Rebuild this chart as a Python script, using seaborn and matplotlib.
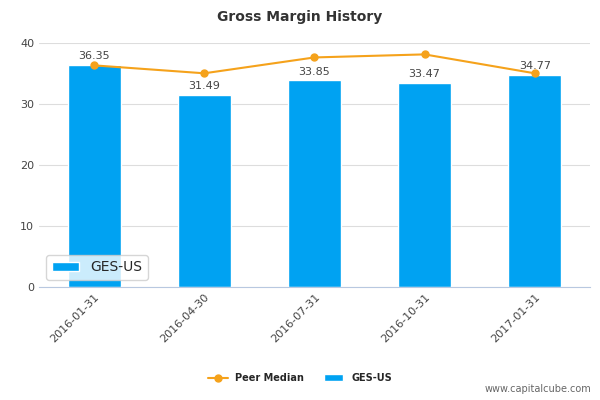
import matplotlib
matplotlib.use('Agg')
import matplotlib.pyplot as plt
import seaborn as sns
import pandas as pd

# 데이터
dates = ['2016-01-31', '2016-04-30', '2016-07-31', '2016-10-31', '2017-01-31']
ges_us = [36.35, 31.49, 33.85, 33.47, 34.77]
peer_median = [36.3, 35.0, 37.6, 38.1, 35.0]
yticks = [0, 10, 20, 30, 40]

df = pd.DataFrame({'date': dates, 'GES-US': ges_us, 'Peer Median': peer_median})

sns.set_style('white')
fig = plt.figure(figsize=(6, 4), dpi=100)
ax = fig.add_axes([0.065, 0.283, 0.918, 0.61])

sns.barplot(data=df, x='date', y='GES-US', color='#00a2f2', width=0.48,
            saturation=1, ax=ax, label='GES-US')
ax.plot(range(len(dates)), peer_median, color='#f5a21b', lw=1.5,
        marker='o', ms=5, label='Peer Median')

for i, v in enumerate(ges_us):
    ax.text(i, v + 0.6, f'{v:.2f}', ha='center', va='bottom', fontsize=8, color='#444444')

ax.set_ylim(0, 40)
ax.set_yticks(yticks)
ax.set_xlim(-0.5, len(dates) - 0.5)
ax.set_xlabel('')
ax.set_ylabel('')
ax.grid(axis='y', color='#dddddd', lw=0.8)
ax.set_axisbelow(True)
for s in ['top', 'right', 'left']:
    ax.spines[s].set_visible(False)
ax.spines['bottom'].set_color('#b8c8e0')
ax.tick_params(axis='y', length=0, labelsize=8, colors='#444444')
ax.tick_params(axis='x', labelsize=8, colors='#444444', length=0)
ax.set_xticks([x + 0.5 for x in range(-1, len(dates))], minor=True)
ax.tick_params(axis='x', which='minor', length=8, color='#b8c8e0')
plt.setp(ax.get_xticklabels(), rotation=45, ha='right', rotation_mode='anchor')

fig.suptitle('Gross Margin History', y=0.975, fontsize=10, fontweight='bold', color='#333333')
fig.legend(loc='lower center', bbox_to_anchor=(0.5, 0.02), ncol=2, frameon=False,
           prop={'size': 7, 'weight': 'bold'})
fig.text(0.985, 0.015, 'www.capitalcube.com', ha='right', va='bottom', fontsize=7, color='#666666')

fig.savefig('out.png', dpi=100)
